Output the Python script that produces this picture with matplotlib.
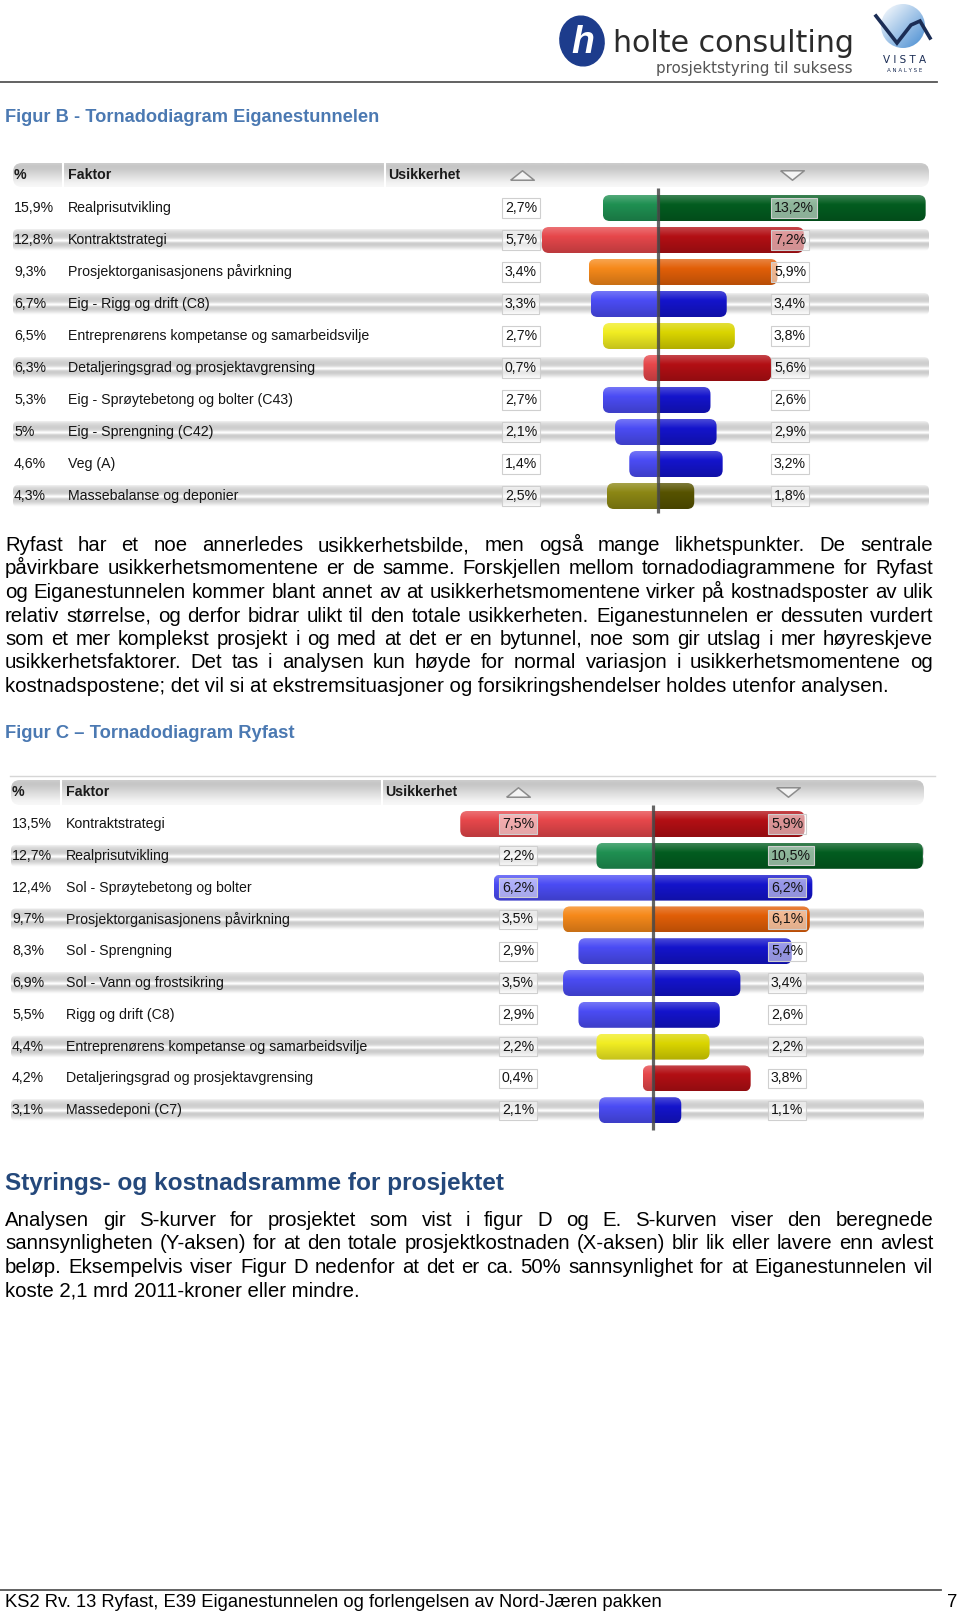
import numpy as np
import matplotlib
matplotlib.use("Agg")
import matplotlib.pyplot as plt
from matplotlib import font_manager
from matplotlib.colors import to_rgb
from matplotlib.patches import FancyBboxPatch, Ellipse, Circle

W, H = 960, 1613

# ---------------------------------------------------------------------------
# data: Figur B - Eiganestunnelen
# ---------------------------------------------------------------------------
b_share = ["15,9%", "12,8%", "9,3%", "6,7%", "6,5%", "6,3%", "5,3%", "5%", "4,6%", "4,3%"]
b_factor = ["Realprisutvikling", "Kontraktstrategi", "Prosjektorganisasjonens påvirkning",
            "Eig - Rigg og drift (C8)", "Entreprenørens kompetanse og samarbeidsvilje",
            "Detaljeringsgrad og prosjektavgrensing", "Eig - Sprøytebetong og bolter (C43)",
            "Eig - Sprengning (C42)", "Veg (A)", "Massebalanse og deponier"]
b_low = [2.7, 5.7, 3.4, 3.3, 2.7, 0.7, 2.7, 2.1, 1.4, 2.5]
b_high = [13.2, 7.2, 5.9, 3.4, 3.8, 5.6, 2.6, 2.9, 3.2, 1.8]
b_colour = ["green", "red", "orange", "blue", "yellow", "red", "blue", "blue", "blue", "olive"]

# data: Figur C - Ryfast
c_share = ["13,5%", "12,7%", "12,4%", "9,7%", "8,3%", "6,9%", "5,5%", "4,4%", "4,2%", "3,1%"]
c_factor = ["Kontraktstrategi", "Realprisutvikling", "Sol - Sprøytebetong og bolter",
            "Prosjektorganisasjonens påvirkning", "Sol - Sprengning", "Sol - Vann og frostsikring",
            "Rigg og drift (C8)", "Entreprenørens kompetanse og samarbeidsvilje",
            "Detaljeringsgrad og prosjektavgrensing", "Massedeponi (C7)"]
c_low = [7.5, 2.2, 6.2, 3.5, 2.9, 3.5, 2.9, 2.2, 0.4, 2.1]
c_high = [5.9, 10.5, 6.2, 6.1, 5.4, 3.4, 2.6, 2.2, 3.8, 1.1]
c_colour = ["red", "green", "blue", "orange", "blue", "blue", "blue", "yellow", "red", "blue"]

para1 = [
    "Ryfast har et noe annerledes usikkerhetsbilde, men også mange likhetspunkter. De sentrale",
    "påvirkbare usikkerhetsmomentene er de samme. Forskjellen mellom tornadodiagrammene for Ryfast",
    "og Eiganestunnelen kommer blant annet av at usikkerhetsmomentene virker på kostnadsposter av ulik",
    "relativ størrelse, og derfor bidrar ulikt til den totale usikkerheten. Eiganestunnelen er dessuten vurdert",
    "som et mer komplekst prosjekt i og med at det er en bytunnel, noe som gir utslag i mer høyreskjeve",
    "usikkerhetsfaktorer. Det tas i analysen kun høyde for normal variasjon i usikkerhetsmomentene og",
    "kostnadspostene; det vil si at ekstremsituasjoner og forsikringshendelser holdes utenfor analysen.",
]
para2 = [
    "Analysen gir S-kurver for prosjektet som vist i figur D og E. S-kurven viser den beregnede",
    "sannsynligheten (Y-aksen) for at den totale prosjektkostnaden (X-aksen) blir lik eller lavere enn avlest",
    "beløp. Eksempelvis viser Figur D nedenfor at det er ca. 50% sannsynlighet for at Eiganestunnelen vil",
    "koste 2,1 mrd 2011-kroner eller mindre.",
]

PALETTE = {
    "green": ("#1f9052", "#035d20"),
    "red": ("#e6474b", "#b30f14"),
    "orange": ("#f6891a", "#e25f08"),
    "blue": ("#4b4cf4", "#1414cc"),
    "yellow": ("#f1ed22", "#dad500"),
    "olive": ("#8c8714", "#575300"),
}

BODY = "Liberation Sans"
TABLE = "Liberation Sans"
names = {f.name for f in font_manager.fontManager.ttflist}
FOOT = "Liberation Sans Narrow" if "Liberation Sans Narrow" in names else "Liberation Sans"

fig = plt.figure(figsize=(W / 100, H / 100), dpi=100)
page = fig.add_axes([0, 0, 1, 1])
page.set_xlim(0, W)
page.set_ylim(H, 0)
page.axis("off")
renderer = fig.canvas.get_renderer()


def text_width(s, size, **kw):
    t = page.text(0, 0, s, fontsize=size, **kw)
    w = t.get_window_extent(renderer).width
    t.remove()
    return w


def fit_size(s, width, **kw):
    return 10 * width / text_width(s, 10, **kw)


def paragraph(lines, x0, x1, y0, step, size, **kw):
    for i, line in enumerate(lines):
        y = y0 + i * step
        if i == len(lines) - 1:
            page.text(x0, y, line, fontsize=size, va="baseline", **kw)
            continue
        words = line.split(" ")
        widths = [text_width(w, size, **kw) for w in words]
        gap = (x1 - x0 - sum(widths)) / (len(words) - 1)
        x = x0
        for w, ww in zip(words, widths):
            page.text(x, y, w, fontsize=size, va="baseline", **kw)
            x += ww + gap


def shade(colour, n=24):
    c = np.array(to_rgb(colour))
    t = np.linspace(0, 1, n)[:, None]
    top = c + (1 - c) * 0.22
    bot = c * 0.82
    rows = np.where(t < 0.35, top + (c - top) * (t / 0.35), c + (bot - c) * ((t - 0.35) / 0.65))
    return rows[:, None, :]


def grey(profile):
    g = np.array(profile)[:, None, None]
    return np.repeat(g, 3, axis=2)


HEAD_GRAD = grey([0.80, 0.78, 0.78, 0.79, 0.81, 0.83, 0.85, 0.87, 0.89, 0.91, 0.93, 0.95, 0.96, 0.97])
BAND_GRAD = grey([0.97, 0.93, 0.89, 0.86, 0.84, 0.82, 0.81, 0.81, 0.82, 0.85, 0.91, 0.99,
                  0.99, 0.87, 0.81, 0.80, 0.81, 0.84, 0.88, 0.92, 0.96, 0.99])


def paint(ax, x0, x1, y0, y1, rgb, clip, z):
    im = ax.imshow(rgb, extent=(x0, x1, y1, y0), aspect="auto", interpolation="bilinear", zorder=z)
    im.set_clip_path(clip)


UP = [(-1, -0.4), (1, -0.4), (0, 0.4), (-1, -0.4)]
DOWN = [(-1, 0.4), (1, 0.4), (0, -0.4), (-1, 0.4)]


def tornado(share, factor, low, high, colour, lay, tsize):
    top, bottom = lay["top"], lay["bottom"]
    r0, p, cx, sx = lay["row0"], lay["pitch"], lay["cx"], lay["sx"]
    ax = fig.add_axes([0, 1 - bottom / H, 1, (bottom - top) / H])
    ax.patch.set_visible(False)
    ax.axis("off")

    def px(v):
        return (v - cx) / sx

    def py(v):
        return (v - r0) / p

    ma = sx / p
    xa, xb = px(lay["x0"]), px(lay["x1"])

    # header
    h0, h1 = py(lay["head"][0]), py(lay["head"][1])
    head = FancyBboxPatch((xa, h0), xb - xa, h1 - h0, boxstyle=f"round,pad=0,rounding_size={9 / sx}",
                          mutation_aspect=ma, fc="none", ec="none", zorder=1)
    ax.add_patch(head)
    paint(ax, xa, xb, h0, h1, HEAD_GRAD, head, 1)
    for s in lay["seps"]:
        ax.plot([px(s)] * 2, [h0, h1], color="white", lw=1.5, zorder=2)
    yh = (h0 + h1) / 2
    hk = dict(fontsize=tsize, fontweight="bold", family=TABLE, va="center", color="#1a1a1a", zorder=4)
    ax.text(px(lay["c_share"]), yh, "%", **hk)
    ax.text(px(lay["c_factor"]), yh, "Faktor", **hk)
    ax.text(px(lay["c_usik"]), yh, "Usikkerhet", **hk)
    ax.plot(px(lay["tri"][0]), yh, marker=UP, ms=17, mfc="#f4f4f4", mec="#8c8c8c", mew=1.1, zorder=4)
    ax.plot(px(lay["tri"][1]), yh, marker=DOWN, ms=17, mfc="#f4f4f4", mec="#8c8c8c", mew=1.1, zorder=4)

    # alternating grey bands
    bh = 22 / p
    for i in range(1, len(factor), 2):
        band = FancyBboxPatch((xa, i - bh / 2), xb - xa, bh, boxstyle=f"round,pad=0,rounding_size={5 / sx}",
                              mutation_aspect=ma, fc="none", ec="none", zorder=1)
        ax.add_patch(band)
        paint(ax, xa, xb, i - bh / 2 - 0.5 / p, i + bh / 2, BAND_GRAD, band, 1)

    # bars
    barh = 26 / p
    for i in range(len(factor)):
        x0, x1 = -low[i], high[i]
        y0 = i - barh / 2
        patch = FancyBboxPatch((x0, y0), x1 - x0, barh, boxstyle=f"round,pad=0,rounding_size={7 / sx}",
                               mutation_aspect=ma, fc="none", ec="none", zorder=3)
        ax.add_patch(patch)
        left_c, right_c = PALETTE[colour[i]]
        paint(ax, x0, 0, y0, y0 + barh, shade(left_c), patch, 3)
        paint(ax, 0, x1, y0, y0 + barh, shade(right_c), patch, 3)

    # centre line
    ax.plot([0, 0], [py(lay["line"][0]), py(lay["line"][1])], color="#4a4a4a", lw=2.3, alpha=0.85,
            solid_capstyle="butt", zorder=5)

    # labels
    tk = dict(fontsize=tsize, family=TABLE, va="center", color="#141414", zorder=6)
    box = dict(boxstyle="square,pad=0.18", fc=(1, 1, 1, 0.55), ec="#cfcfcf", lw=0.8)
    for i in range(len(factor)):
        ax.text(px(lay["c_share"]), i, share[i], **tk)
        ax.text(px(lay["c_factor"]), i, factor[i], **tk)
        ax.text(px(lay["box_l"]), i, f"{low[i]:.1f}%".replace(".", ","), bbox=box, **tk)
        ax.text(px(lay["box_r"]), i, f"{high[i]:.1f}%".replace(".", ","), bbox=box, **tk)

    ax.set_xlim(-cx / sx, (W - cx) / sx)
    ax.set_ylim(py(bottom), py(top))


lay_b = dict(top=150, bottom=520, row0=208, pitch=32, cx=657.7, sx=20.3, x0=13, x1=929,
             head=(163, 187), c_share=14, c_factor=68, c_usik=388, seps=(63, 385),
             box_l=505, box_r=774, tri=(522, 792), line=(188, 513))
lay_c = dict(top=770, bottom=1135, row0=824, pitch=31.8, cx=653, sx=25.7, x0=11, x1=924,
             head=(780, 805), c_share=12, c_factor=66, c_usik=385, seps=(61, 382),
             box_l=502, box_r=771, tri=(518, 788), line=(805, 1130))

tsize = fit_size("Entreprenørens kompetanse og samarbeidsvilje", 300, family=TABLE)
tornado(b_share, b_factor, b_low, b_high, b_colour, lay_b, tsize)
tornado(c_share, c_factor, c_low, c_high, c_colour, lay_c, tsize)

# ---------------------------------------------------------------------------
# page header (logos)
# ---------------------------------------------------------------------------
page.add_patch(Ellipse((582, 41), 44, 50, angle=-12, color="#1d3c8c", zorder=2))
page.text(583, 43, "h", fontsize=27, fontweight="bold", fontstyle="italic", family=BODY,
          color="white", ha="center", va="center", zorder=3)
s = fit_size("holte consulting", 240, family="DejaVu Sans")
page.text(613, 44, "holte consulting", fontsize=s, family="DejaVu Sans", color="#2b2b2b", va="center")
s = fit_size("prosjektstyring til suksess", 196, family="DejaVu Sans")
page.text(852, 69, "prosjektstyring til suksess", fontsize=s, family="DejaVu Sans", color="#555555",
          va="center", ha="right")

circ = Circle((903, 26), 22, fc="none", ec="none")
page.add_patch(circ)
gy, gx = np.mgrid[0:1:60j, 0:1:60j]
d = np.clip((gx + (1 - gy)) / 2, 0, 1)[:, :, None]
blue = np.array(to_rgb("#3d86cf"))
vista = 1 - d * (1 - blue) * 0.95
im = page.imshow(vista[::-1], extent=(881, 925, 48, 4), aspect="auto", zorder=2)
im.set_clip_path(circ)
page.plot([876, 897, 911, 920, 930], [16, 43, 25, 21, 38], color="#1b2d55", lw=2.6, zorder=3,
          solid_joinstyle="miter")
page.text(905, 60, "V I S T A", fontsize=7.5, family="DejaVu Sans", color="#1b2d55", ha="center", va="center")
page.text(905, 70, "A N A L Y S E", fontsize=4, family="DejaVu Sans", color="#1b2d55", ha="center", va="center")
page.plot([0, 937], [82, 82], color="#555555", lw=1.3)

# ---------------------------------------------------------------------------
# headings and body text
# ---------------------------------------------------------------------------
head_blue = "#4b79b2"
s = fit_size("Figur B - Tornadodiagram Eiganestunnelen", 374, family=BODY, fontweight="bold")
page.text(5, 122, "Figur B - Tornadodiagram Eiganestunnelen", fontsize=s, family=BODY,
          fontweight="bold", color=head_blue, va="baseline")
s = fit_size("Figur C \u2013 Tornadodiagram Ryfast", 290, family=BODY, fontweight="bold")
page.text(5, 738, "Figur C \u2013 Tornadodiagram Ryfast", fontsize=s, family=BODY,
          fontweight="bold", color=head_blue, va="baseline")
s = fit_size("Styrings- og kostnadsramme for prosjektet", 500, family=BODY, fontweight="bold")
page.text(5, 1190, "Styrings- og kostnadsramme for prosjektet", fontsize=s, family=BODY,
          fontweight="bold", color="#24487b", va="baseline")
page.plot([10, 935], [776, 776], color="#d6d6d6", lw=1)

bsize = fit_size(para1[-1], 886, family=BODY)
paragraph(para1, 5, 933, 551, 23.5, bsize, family=BODY, color="black")
paragraph(para2, 5, 933, 1226, 23.4, bsize, family=BODY, color="black")

# footer
page.plot([0, 941], [1590, 1590], color="#555555", lw=1.3)
footer = "KS2 Rv. 13 Ryfast, E39 Eiganestunnelen og forlengelsen av Nord-Jæren pakken"
s = fit_size(footer, 659, family=FOOT)
page.text(5, 1607, footer, fontsize=s, family=FOOT, color="black", va="baseline")
page.text(957, 1607, "7", fontsize=s, family=FOOT, color="black", va="baseline", ha="right")

fig.savefig("out.png", dpi=100)
